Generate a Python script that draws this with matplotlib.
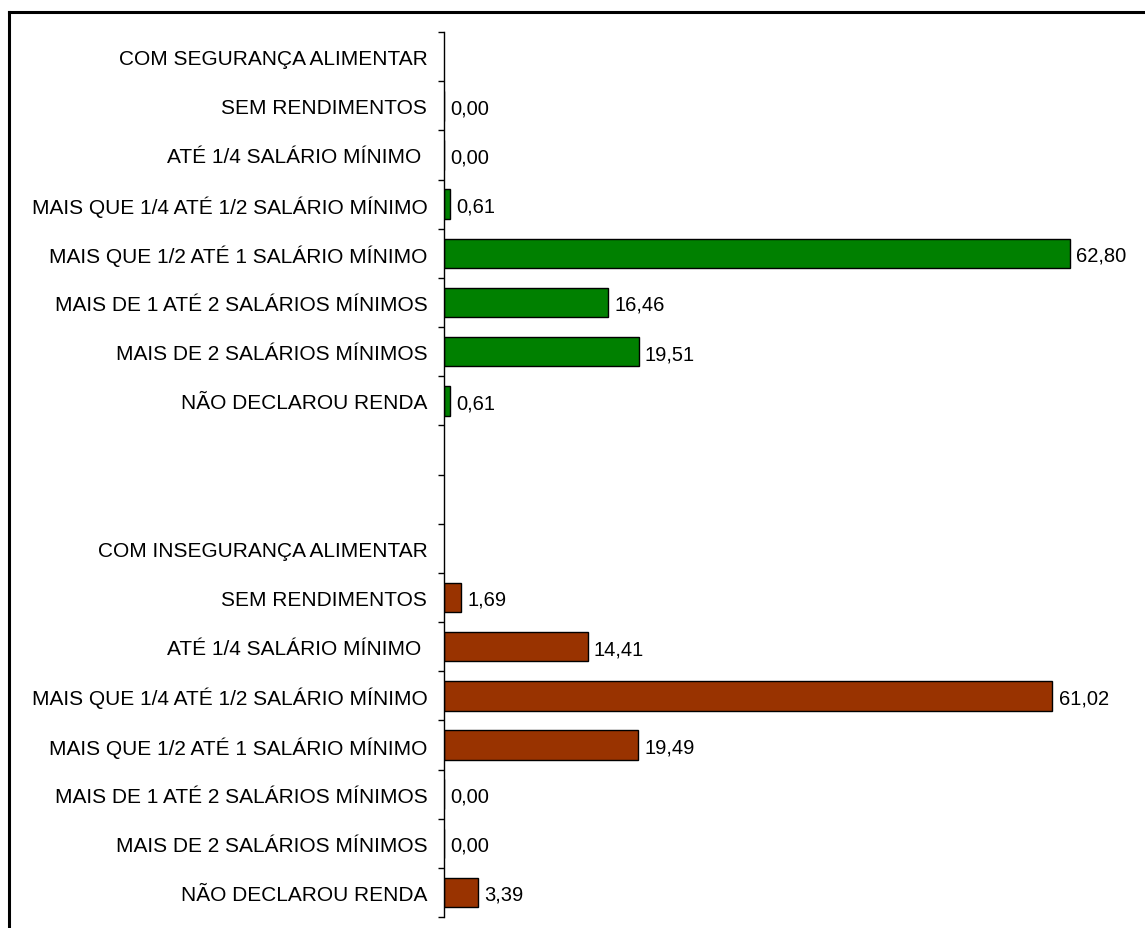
import numpy as np
import matplotlib.pyplot as plt
from matplotlib.lines import Line2D

plt.rcParams['font.family'] = ['Liberation Sans', 'DejaVu Sans']

faixas = [
    'SEM RENDIMENTOS',
    'ATÉ 1/4 SALÁRIO MÍNIMO ',
    'MAIS QUE 1/4 ATÉ 1/2 SALÁRIO MÍNIMO',
    'MAIS QUE 1/2 ATÉ 1 SALÁRIO MÍNIMO',
    'MAIS DE 1 ATÉ 2 SALÁRIOS MÍNIMOS',
    'MAIS DE 2 SALÁRIOS MÍNIMOS',
    'NÃO DECLAROU RENDA',
]
seguranca = [0.00, 0.00, 0.61, 62.80, 16.46, 19.51, 0.61]
inseguranca = [1.69, 14.41, 61.02, 19.49, 0.00, 0.00, 3.39]

titulo_seg = 'COM SEGURANÇA ALIMENTAR'
titulo_inseg = 'COM INSEGURANÇA ALIMENTAR'

# 18 slots: header + 7 bars, two blank rows, header + 7 bars
labels = [titulo_seg] + faixas + ['', ''] + [titulo_inseg] + faixas
n = len(labels)
pos = np.arange(n)

fig = plt.figure(figsize=(11.45, 9.29), dpi=100)
ax = fig.add_axes([444 / 1145, 1 - 918 / 929, 1 - 444 / 1145, (918 - 33) / 929])

y_seg = pos[1:8]
y_inseg = pos[11:18]
ax.barh(y_seg, seguranca, height=0.6, color='#008000', edgecolor='black', linewidth=1)
ax.barh(y_inseg, inseguranca, height=0.6, color='#993300', edgecolor='black', linewidth=1)

for y, v in list(zip(y_seg, seguranca)) + list(zip(y_inseg, inseguranca)):
    ax.annotate(f'{v:.2f}'.replace('.', ','), (v, y), xytext=(4.5, 0), textcoords='offset points',
                va='center_baseline', ha='left', fontsize=14.5)

ax.set_ylim(n - 0.5, -0.5)
ax.set_xlim(0, 70.3)

ax.set_yticks(np.arange(n + 1) - 0.5)
ax.set_yticklabels([])
ax.set_yticks(pos, minor=True)
ax.set_yticklabels(labels, minor=True, fontsize=15)
ax.tick_params(axis='y', which='major', length=4.5, width=1, direction='out')
ax.tick_params(axis='y', which='minor', length=0, pad=12)
ax.set_xticks([])

for s in ['top', 'right', 'bottom']:
    ax.spines[s].set_visible(False)
ax.spines['left'].set_linewidth(1)

# outer frame (top and left edges)
fig.add_artist(Line2D([9 / 1145, 1], [1 - 13 / 929, 1 - 13 / 929], color='black', lw=2.2,
                      transform=fig.transFigure, solid_capstyle='projecting'))
fig.add_artist(Line2D([9 / 1145, 9 / 1145], [1 - 13 / 929, 0], color='black', lw=2.2,
                      transform=fig.transFigure, solid_capstyle='projecting'))

fig.savefig('out.png', dpi=100)
